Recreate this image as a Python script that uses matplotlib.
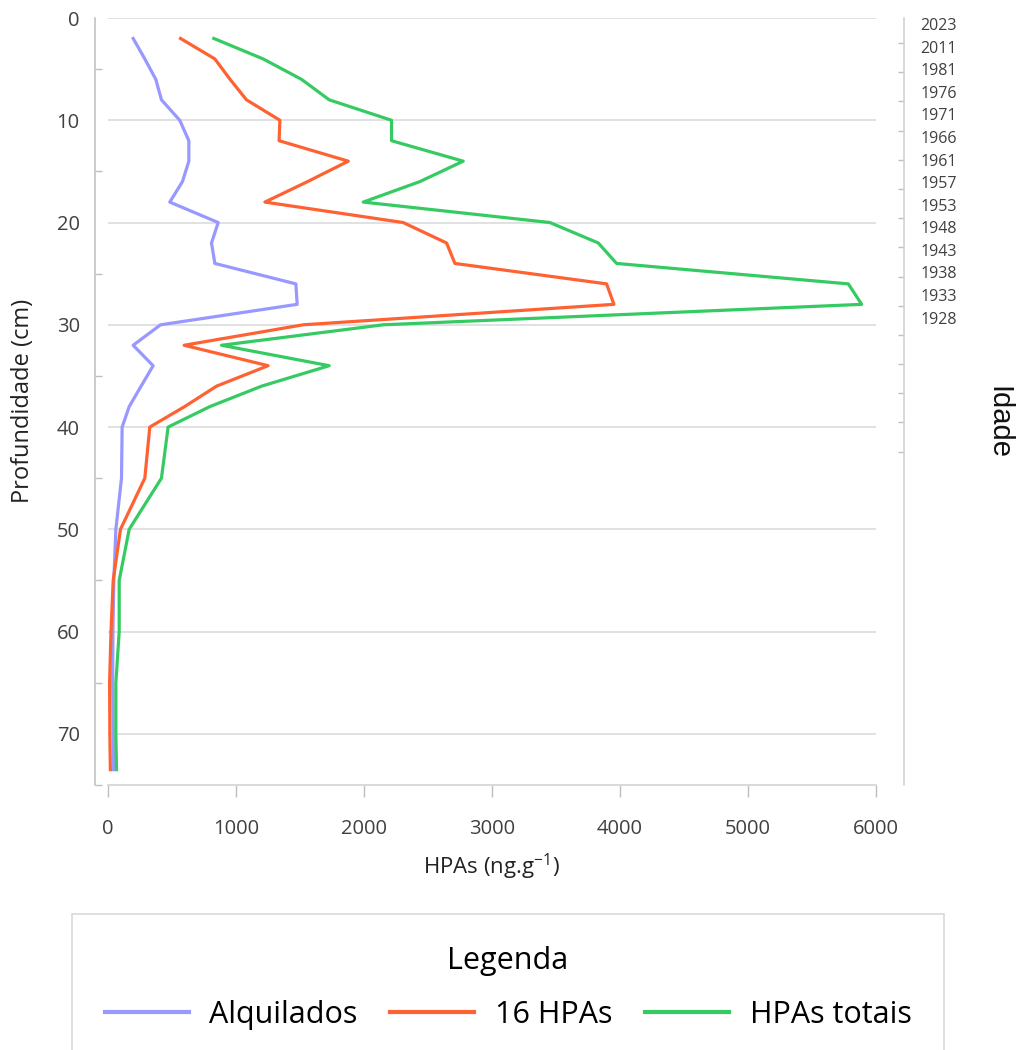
import numpy as np
import matplotlib
matplotlib.use("Agg")
import matplotlib.pyplot as plt
from matplotlib.ticker import FixedLocator
from matplotlib.lines import Line2D

plt.rcParams['font.family'] = ['Open Sans', 'DejaVu Sans']

# --- perfil do testemunho: profundidade (cm) x concentração (ng/g) ---
profundidade = [2, 4, 6, 8, 10, 12, 14, 16, 18, 20, 22, 24, 26, 28, 30,
                32, 34, 36, 38, 40, 45, 50, 55, 60, 65, 70, 73.5]

alquilados = [198, 289, 375, 419, 562, 633, 633, 583, 484, 862, 810, 836, 1469, 1479, 412,
              198, 354, 260, 167, 112, 107, 63, 47, 40, 38, 42, 45]
hpas_16 = [568, 836, 955, 1083, 1344, 1338, 1878, 1560, 1227, 2307, 2646, 2711, 3896, 3953, 1526,
           596, 1252, 849, 600, 328, 289, 99, 42, 25, 14, 16, 20]
hpas_totais = [828, 1213, 1513, 1729, 2216, 2216, 2776, 2437, 1995, 3453, 3831, 3974, 5784, 5888, 2151,
               888, 1729, 1201, 797, 471, 419, 167, 89, 89, 63, 63, 68]

series_labels = ["Alquilados", "16 HPAs", "HPAs totais"]
series_colors = ["#9898FF", "#FF6232", "#35CB62"]

# datação (eixo secundário)
anos = ["2023", "2011", "1981", "1976", "1971", "1966", "1961",
        "1957", "1953", "1948", "1943", "1938", "1933", "1928"]

W, H = 1020, 1050
fig = plt.figure(figsize=(W / 100, H / 100), dpi=100)
ax = fig.add_axes([95 / W, 1 - 785 / H, 781 / W, 767 / H])

for vals, color, label in zip([alquilados, hpas_16, hpas_totais], series_colors, series_labels):
    ax.plot(vals, profundidade, color=color, lw=2.3, label=label, zorder=3)

ax.set_xlim(-100, 6000)
ax.set_ylim(75, 0)

y_major = np.arange(0, 71, 10)
ax.set_xticks(np.arange(0, 6001, 1000))
ax.set_yticks(y_major)
ax.yaxis.set_minor_locator(FixedLocator(np.arange(5, 76, 10)))

# grade horizontal só sobre a faixa de dados
ax.hlines(y_major, 0, 6000, color="#d9d9d9", lw=1.1, zorder=0)

for s in ["top", "right"]:
    ax.spines[s].set_visible(False)
ax.spines["left"].set_color("#bfbfbf")
ax.spines["left"].set_linewidth(1.1)
ax.spines["bottom"].set_color("#d0d0d0")
ax.spines["bottom"].set_linewidth(1.1)
ax.spines["bottom"].set_bounds(0, 6000)

ax.tick_params(axis="y", which="major", length=0, pad=11, labelsize=14.5, labelcolor="#404040")
ax.tick_params(axis="y", which="minor", direction="in", length=5, width=1, color="#bfbfbf")
ax.tick_params(axis="x", which="major", direction="out", length=8.5, width=1, color="#bfbfbf",
               pad=16, labelsize=14.5, labelcolor="#404040")

ax.set_xlabel("HPAs (ng.g$^{\\mathregular{-1}}$)", fontsize=16, color="#222222")
ax.xaxis.set_label_coords((491 - 95) / 781, -(867 - 785) / 767)
ax.xaxis.label.set_va("center")

fig.text(23 / W, 1 - 401 / H, "Profundidade (cm)", rotation=90, ha="center", va="center",
         fontsize=17, color="#222222")

# eixo secundário com as idades
ax2 = fig.add_axes([884 / W, 1 - 785 / H, 20 / W, 767 / H])
ax2.set_ylim(75, 0)
ax2.set_xticks([])
ax2.patch.set_visible(False)
for s in ["left", "top", "bottom"]:
    ax2.spines[s].set_visible(False)
ax2.spines["right"].set_color("#d0d0d0")
ax2.spines["right"].set_linewidth(1.1)
ax2.yaxis.tick_right()
ax2.set_yticks(np.linspace(0.6, 29.3, len(anos)))
ax2.set_yticklabels(anos)
ax2.yaxis.set_minor_locator(FixedLocator(np.linspace(2.45, 42.4, 15)))
ax2.tick_params(axis="y", which="major", length=0, pad=12, labelsize=11.5, labelcolor="#404040")
ax2.tick_params(axis="y", which="minor", direction="in", length=4.5, width=1, color="#bfbfbf")

fig.text(998 / W, 1 - 422 / H, "Idade", rotation=-90, ha="center", va="center",
         fontsize=21, family=["Liberation Sans", "DejaVu Sans"], color="#111111")

handles = [Line2D([], [], color=c, lw=3) for c in series_colors]
leg = fig.legend(handles, series_labels, loc="upper center", bbox_to_anchor=(508 / W, 1 - 914 / H),
                 borderaxespad=0, ncol=3, title="Legenda", fontsize=22, title_fontsize=22,
                 handlelength=2.75, handletextpad=0.68, columnspacing=1.06, borderpad=1.05,
                 labelspacing=0.78, frameon=True, fancybox=False, edgecolor="#d0d0d0")
leg.get_frame().set_linewidth(1.2)

fig.savefig("out.png", dpi=100)
